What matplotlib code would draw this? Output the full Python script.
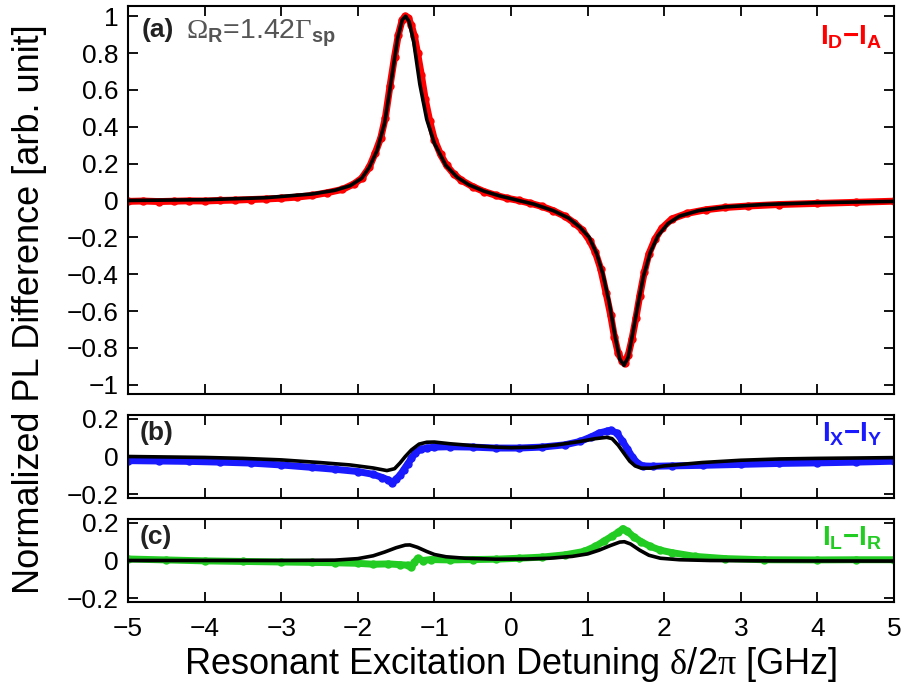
import matplotlib
matplotlib.use('Agg')
import matplotlib.pyplot as plt

plt.rcParams['font.family'] = ['Liberation Sans', 'DejaVu Sans']
plt.rcParams['mathtext.fontset'] = 'custom'
plt.rcParams['mathtext.rm'] = 'Liberation Serif'
plt.rcParams['mathtext.bf'] = 'Liberation Sans:bold'
plt.rcParams['mathtext.sf'] = 'Liberation Sans'
plt.rcParams['mathtext.it'] = 'Liberation Sans:italic'

# (a) I_D - I_A : measured (red) and fit (black)
a_fit_x = [-5.0, -4.0, -3.2, -2.6, -2.3, -2.1, -1.95, -1.85, -1.75, -1.65, -1.56, -1.48, -1.42,
           -1.375, -1.33, -1.27, -1.19, -1.1, -1.0, -0.85, -0.7, -0.55, -0.35, -0.15, 0.05, 0.3,
           0.55, 0.75, 0.9, 1.02, 1.12, 1.2, 1.28, 1.36, 1.42, 1.475, 1.53, 1.59, 1.66, 1.73,
           1.82, 1.92, 2.05, 2.2, 2.45, 2.8, 3.3, 4.0, 5.0]
a_fit_y = [0.0, 0.004, 0.015, 0.035, 0.055, 0.08, 0.12, 0.18, 0.27, 0.42, 0.66, 0.88, 0.98,
           1.0, 0.97, 0.86, 0.63, 0.44, 0.31, 0.19, 0.125, 0.085, 0.05, 0.025, 0.005, -0.02,
           -0.055, -0.095, -0.145, -0.2, -0.29, -0.40, -0.55, -0.74, -0.86, -0.895, -0.85, -0.72,
           -0.56, -0.41, -0.28, -0.19, -0.125, -0.085, -0.055, -0.035, -0.022, -0.012, -0.005]
a_dat_x = [-5.0, -4.8, -4.6, -4.4, -4.2, -4.0, -3.8, -3.6, -3.4, -3.2, -3.0, -2.8, -2.6, -2.4,
           -2.2, -2.05, -1.95, -1.85, -1.77, -1.7, -1.64, -1.58, -1.52, -1.47, -1.42, -1.38, -1.34,
           -1.3, -1.26, -1.22, -1.17, -1.12, -1.06, -1.0, -0.92, -0.84, -0.75, -0.65, -0.5, -0.35,
           -0.2, -0.05, 0.1, 0.25, 0.4, 0.55, 0.7, 0.82, 0.93, 1.03, 1.1, 1.17, 1.24, 1.3, 1.35,
           1.4, 1.45, 1.49, 1.53, 1.58, 1.63, 1.68, 1.74, 1.8, 1.88, 1.97, 2.1, 2.3, 2.55, 2.8,
           3.1, 3.5, 4.0, 4.5, 5.0]
a_dat_y = [-0.005, -0.003, -0.006, -0.004, -0.002, -0.003, 0.0, 0.002, 0.005, 0.008, 0.012,
           0.018, 0.027, 0.042, 0.06, 0.09, 0.12, 0.18, 0.26, 0.34, 0.45, 0.62, 0.78, 0.9, 0.98,
           1.0, 0.99, 0.95, 0.89, 0.8, 0.68, 0.55, 0.43, 0.33, 0.25, 0.19, 0.145, 0.11, 0.075,
           0.048, 0.028, 0.012, 0.0, -0.015, -0.032, -0.055, -0.085, -0.12, -0.16, -0.22, -0.28,
           -0.37, -0.5, -0.62, -0.74, -0.83, -0.87, -0.88, -0.84, -0.75, -0.64, -0.52, -0.39,
           -0.29, -0.21, -0.15, -0.1, -0.07, -0.05, -0.038, -0.03, -0.022, -0.016, -0.01, -0.004]

# (b) I_X - I_Y : measured (blue) and fit (black)
b_fit_x = [-5.0, -4.0, -3.5, -3.0, -2.5, -2.1, -1.8, -1.62, -1.52, -1.45, -1.38, -1.3, -1.2,
           -1.1, -1.0, -0.8, -0.5, -0.2, 0.0, 0.3, 0.6, 0.9, 1.1, 1.25, 1.32, 1.4, 1.47, 1.55,
           1.62, 1.7, 1.82, 2.0, 2.5, 3.0, 3.5, 4.0, 5.0]
b_fit_y = [0.0, -0.005, -0.01, -0.018, -0.032, -0.045, -0.061, -0.075, -0.065, -0.035, 0.0,
           0.035, 0.066, 0.076, 0.077, 0.068, 0.058, 0.05, 0.047, 0.05, 0.062, 0.08, 0.095, 0.102,
           0.095, 0.06, 0.02, -0.025, -0.05, -0.062, -0.062, -0.05, -0.032, -0.02, -0.013, -0.01,
           -0.006]
b_dat_x = [-5.0, -4.6, -4.2, -3.8, -3.4, -3.0, -2.6, -2.3, -2.0, -1.8, -1.68, -1.6, -1.55, -1.5,
           -1.45, -1.4, -1.35, -1.3, -1.25, -1.18, -1.1, -1.0, -0.8, -0.5, -0.2, 0.1, 0.4, 0.7,
           0.9, 1.05, 1.15, 1.25, 1.3, 1.38, 1.45, 1.52, 1.58, 1.65, 1.72, 1.85, 2.1, 2.5, 3.0,
           3.5, 4.0, 4.5, 5.0]
b_dat_y = [-0.022, -0.024, -0.026, -0.03, -0.035, -0.045, -0.058, -0.068, -0.08, -0.095, -0.112,
           -0.125, -0.14, -0.12, -0.1, -0.07, -0.04, -0.01, 0.02, 0.038, 0.045, 0.05, 0.052, 0.05,
           0.045, 0.045, 0.05, 0.062, 0.08, 0.105, 0.125, 0.135, 0.14, 0.125, 0.085, 0.04, 0.0,
           -0.035, -0.05, -0.052, -0.05, -0.047, -0.042, -0.037, -0.034, -0.03, -0.025]

# (c) I_L - I_R : measured (green) and fit (black)
c_fit_x = [-5.0, -3.0, -2.3, -2.0, -1.8, -1.65, -1.5, -1.38, -1.32, -1.22, -1.1, -1.0, -0.85,
           -0.6, -0.2, 0.2, 0.5, 0.8, 1.0, 1.15, 1.3, 1.42, 1.48, 1.56, 1.68, 1.8, 1.95, 2.2,
           2.6, 3.5, 5.0]
c_fit_y = [0.0, 0.0, 0.002, 0.01, 0.025, 0.045, 0.068, 0.082, 0.083, 0.07, 0.048, 0.032, 0.02,
           0.012, 0.007, 0.008, 0.012, 0.022, 0.035, 0.055, 0.08, 0.098, 0.1, 0.088, 0.055, 0.028,
           0.012, 0.004, 0.0, -0.002, -0.003]
c_dat_x = [-5.0, -4.5, -4.0, -3.5, -3.0, -2.6, -2.3, -2.0, -1.8, -1.6, -1.45, -1.35, -1.3, -1.26,
           -1.22, -1.15, -1.05, -0.8, -0.5, -0.2, 0.1, 0.4, 0.7, 0.95, 1.1, 1.22, 1.32, 1.4, 1.46,
           1.52, 1.6, 1.7, 1.82, 1.95, 2.1, 2.4, 2.8, 3.3, 4.0, 4.5, 5.0]
c_dat_y = [0.008, 0.003, -0.002, -0.005, -0.008, -0.01, -0.012, -0.015, -0.02, -0.018, -0.022,
           -0.025, -0.035, -0.01, 0.012, 0.0, 0.005, 0.003, 0.005, 0.007, 0.012, 0.018, 0.03,
           0.048, 0.075, 0.105, 0.13, 0.15, 0.17, 0.155, 0.127, 0.1, 0.075, 0.055, 0.042, 0.022,
           0.01, 0.004, 0.003, 0.004, 0.004]

x_ticks = [-5, -4, -3, -2, -1, 0, 1, 2, 3, 4, 5]
x_labels = ['\u22125', '\u22124', '\u22123', '\u22122', '\u22121', '0', '1', '2', '3', '4', '5']
a_ticks = [-1, -0.8, -0.6, -0.4, -0.2, 0, 0.2, 0.4, 0.6, 0.8, 1]
a_labels = ['\u22121', '\u22120.8', '\u22120.6', '\u22120.4', '\u22120.2', '0', '0.2', '0.4',
            '0.6', '0.8', '1']
bc_ticks = [-0.2, 0, 0.2]
bc_labels = ['\u22120.2', '0', '0.2']

fig = plt.figure(figsize=(9.01, 6.92), dpi=100)
W, H = 901, 692
L, R = 128, 894
def box(top, bot):
    return [L / W, 1 - bot / H, (R - L) / W, (bot - top) / H]

ax_a = fig.add_axes(box(6, 394))
ax_b = fig.add_axes(box(415, 498))
ax_c = fig.add_axes(box(519, 602))

panels = [
    (ax_a, a_dat_x, a_dat_y, a_fit_x, a_fit_y, '#ff0000', (-1.05, 1.055), a_ticks, a_labels),
    (ax_b, b_dat_x, b_dat_y, b_fit_x, b_fit_y, '#1a1aff', (-0.221, 0.221), bc_ticks, bc_labels),
    (ax_c, c_dat_x, c_dat_y, c_fit_x, c_fit_y, '#22cc22', (-0.221, 0.221), bc_ticks, bc_labels),
]
for ax, dx, dy, fx, fy, col, ylim, yt, yl in panels:
    ax.plot(dx, dy, '-', color=col, lw=5, marker='o', ms=5, solid_capstyle='round')
    ax.plot(fx, fy, '-', color='black', lw=2.6)
    ax.set_xlim(-5, 5)
    ax.set_ylim(*ylim)
    ax.set_xticks(x_ticks)
    ax.set_yticks(yt)
    ax.set_yticklabels(yl, fontsize=19)
    ax.tick_params(direction='in', length=7, width=1.3, top=True, right=True, pad=7)
    for s in ax.spines.values():
        s.set_linewidth(1.5)
    if ax is ax_c:
        ax.set_xticklabels(x_labels, fontsize=19)
        ax.tick_params(axis='x', pad=11)
    else:
        ax.set_xticklabels([])

ax_a.text(0.018, 0.968, '(a)', transform=ax_a.transAxes, fontsize=19, fontweight='bold',
          color='#222222', va='top')
ax_a.text(0.076, 0.97, r'$\Omega_{\mathbf{R}}$=1.42$\Gamma_{\mathbf{sp}}$', transform=ax_a.transAxes,
          fontsize=20.5, color='#555555', va='top')
ax_a.text(0.985, 0.955, r'$\mathbf{I_D}$' + '\u2212' + r'$\mathbf{I_A}$', transform=ax_a.transAxes,
          fontsize=20, fontweight='bold', color='#ff0000', ha='right', va='top')
ax_b.text(0.015, 0.93, '(b)', transform=ax_b.transAxes, fontsize=19, fontweight='bold',
          color='#222222', va='top')
ax_b.text(0.985, 0.93, r'$\mathbf{I_X}$' + '\u2212' + r'$\mathbf{I_Y}$', transform=ax_b.transAxes,
          fontsize=20, fontweight='bold', color='#1a1aff', ha='right', va='top')
ax_c.text(0.015, 0.93, '(c)', transform=ax_c.transAxes, fontsize=19, fontweight='bold',
          color='#222222', va='top')
ax_c.text(0.985, 0.93, r'$\mathbf{I_L}$' + '\u2212' + r'$\mathbf{I_R}$', transform=ax_c.transAxes,
          fontsize=20, fontweight='bold', color='#22cc22', ha='right', va='top')

fig.text(30 / W, 1 - 309 / H, 'Normalized PL Difference [arb. unit]', rotation=90, fontsize=26,
         ha='center', va='center')
fig.text(511 / W, 1 - 664 / H, r'Resonant Excitation Detuning $\mathrm{\delta}$/2$\mathrm{\pi}$ [GHz]',
         fontsize=26, ha='center', va='center')

plt.savefig('out.png', dpi=100)
